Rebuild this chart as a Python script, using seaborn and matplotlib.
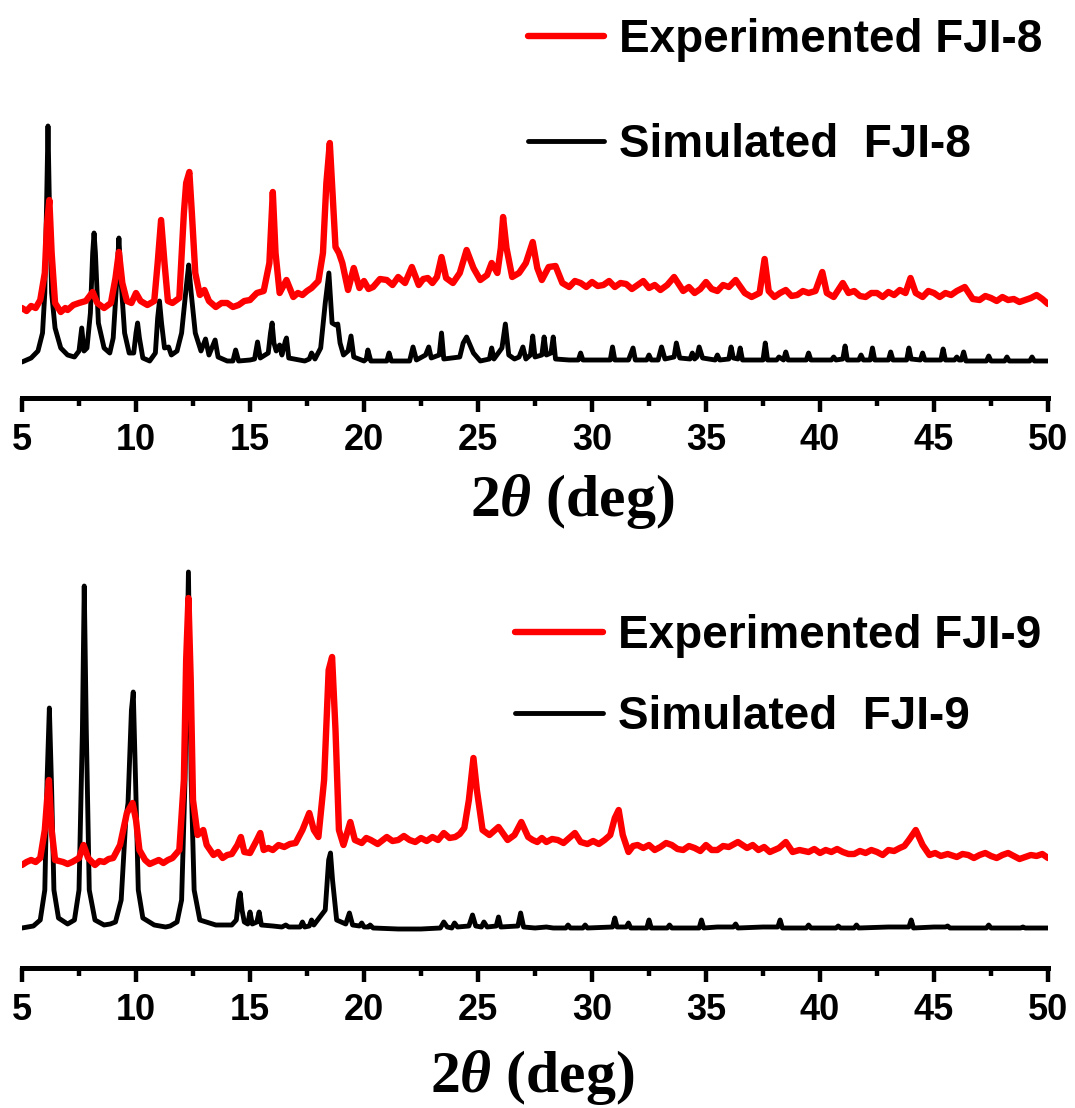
import numpy as np
import pandas as pd
import matplotlib
matplotlib.use("Agg")
import matplotlib.pyplot as plt
import seaborn as sns

# ---------------- data (2theta in deg, intensity in a.u.) ----------------
fji8_sim_x = [5.0, 5.4, 5.7, 5.9, 6.0, 6.08, 6.14, 6.2, 6.3, 6.45, 6.7, 7.0, 7.3, 7.5, 7.62, 7.72, 7.85,
              8.0, 8.1, 8.16, 8.22, 8.35, 8.6, 8.85, 9.0, 9.15, 9.25, 9.35, 9.5, 9.7, 9.9, 10.0, 10.07,
              10.15, 10.3, 10.6, 10.85, 10.95, 11.03, 11.12, 11.25, 11.43, 11.55, 11.8, 12.0, 12.2,
              12.31, 12.42, 12.6, 12.85, 13.05, 13.2, 13.47, 13.6, 14.0, 14.25, 14.37, 14.5, 15.0,
              15.2, 15.33, 15.45, 15.8, 15.9, 15.97, 16.05, 16.15, 16.3, 16.4, 16.55, 16.6, 16.7,
              17.4, 17.6, 17.7, 17.85, 18.1, 18.3, 18.46, 18.6, 18.75, 18.85, 18.95, 19.1, 19.3,
              19.43, 19.55, 20.0, 20.1, 20.17, 20.3, 21.0, 21.1, 21.2, 22.0, 22.15, 22.3, 22.7,
              22.84, 22.95, 23.3, 23.4, 23.5, 24.2, 24.35, 24.5, 24.65, 24.8, 25.1, 25.5, 25.6,
              25.7, 26.05, 26.2, 26.35, 26.6, 26.8, 26.97, 27.1, 27.3, 27.4, 27.5, 27.8, 27.9, 28.0,
              28.2, 28.3, 28.4, 29.0, 29.4, 29.5, 29.6, 30.2, 30.8, 30.9, 31.0, 31.6, 31.8, 31.9,
              32.4, 32.5, 32.6, 32.9, 33.05, 33.2, 33.6, 33.7, 33.85, 34.3, 34.4, 34.5, 34.6, 34.7,
              34.85, 35.4, 35.5, 35.6, 36.0, 36.1, 36.2, 36.4, 36.5, 36.6, 37.5, 37.6, 37.7, 38.1,
              38.2, 38.4, 38.5, 38.6, 39.4, 39.5, 39.6, 40.5, 40.6, 40.7, 41.0, 41.1, 41.2, 41.7,
              41.8, 41.9, 42.2, 42.3, 42.4, 43.0, 43.1, 43.2, 43.8, 43.9, 44.0, 44.4, 44.5, 44.6,
              45.3, 45.4, 45.5, 45.9, 46.0, 46.1, 46.2, 46.3, 46.4, 47.3, 47.4, 47.5, 48.1, 48.2,
              48.3, 49.2, 49.3, 49.4, 50.0]
fji8_sim_y = [1, 5, 12, 30, 70, 160, 237, 160, 70, 35, 15, 8, 6, 12, 35, 12, 15,
              50, 110, 130, 110, 40, 15, 10, 25, 80, 125, 80, 30, 10, 10, 30, 40,
              25, 5, 2, 10, 45, 62, 40, 15, 16, 8, 12, 30, 75,
              98, 70, 30, 12, 24, 8, 23, 6, 2, 2, 13, 2, 3,
              4, 21, 5, 10, 30, 40, 20, 12, 18, 8, 22, 25, 5,
              2, 4, 10, 4, 15, 60, 90, 40, 38, 39, 20, 8, 12,
              27, 6, 2, 4, 13, 2, 2, 10, 2, 2, 16, 3, 8,
              16, 5, 8, 30, 4, 6, 20, 26, 18, 10, 2, 4, 15,
              4, 15, 39, 8, 4, 6, 16, 4, 8, 27, 6, 8, 26, 8,
              10, 26, 4, 3, 3, 10, 3, 3, 3, 16, 3, 3, 15, 3,
              3, 8, 3, 3, 16, 4, 6, 20, 5, 4, 10, 4, 6, 16,
              5, 3, 8, 3, 4, 16, 5, 4, 15, 3, 3, 20, 3, 3,
              6, 3, 11, 3, 3, 10, 3, 3, 6, 3, 4, 17, 3, 3,
              8, 3, 3, 15, 3, 3, 11, 3, 3, 15, 4, 3, 10, 3,
              3, 14, 3, 3, 6, 3, 3, 11, 2, 2, 7, 2, 2, 6,
              2, 2, 6, 2, 2]

fji8_exp_x = [5.0, 5.2, 5.4, 5.6, 5.8, 6.0, 6.1, 6.2, 6.3, 6.45, 6.7, 6.9, 7.0, 7.25, 7.5, 7.8, 8.1,
              8.3, 8.6, 8.9, 9.1, 9.25, 9.4, 9.6, 9.8, 10.0, 10.2, 10.5, 10.8, 10.95, 11.1, 11.25,
              11.4, 11.6, 11.9, 12.1, 12.2, 12.34, 12.45, 12.6, 12.8, 13.0, 13.2, 13.5, 13.75, 14.0,
              14.25, 14.5, 14.75, 15.0, 15.3, 15.6, 15.85, 16.0, 16.12, 16.3, 16.6, 16.9, 17.1, 17.3,
              17.5, 17.7, 18.0, 18.2, 18.35, 18.5, 18.62, 18.75, 18.9, 19.05, 19.3, 19.55, 19.8,
              20.0, 20.2, 20.4, 20.7, 21.0, 21.25, 21.5, 21.8, 22.1, 22.4, 22.6, 22.8, 23.0, 23.2,
              23.4, 23.6, 23.9, 24.2, 24.5, 24.8, 25.1, 25.4, 25.6, 25.85, 26.0, 26.1, 26.25, 26.5,
              26.8, 27.1, 27.4, 27.6, 27.8, 28.1, 28.4, 28.7, 29.0, 29.25, 29.5, 29.75, 30.0, 30.25,
              30.5, 30.75, 31.0, 31.25, 31.5, 31.75, 32.0, 32.25, 32.5, 32.75, 33.0, 33.3, 33.6,
              34.0, 34.25, 34.5, 34.75, 35.0, 35.25, 35.5, 35.75, 36.0, 36.3, 36.7, 37.0, 37.35,
              37.57, 37.75, 38.0, 38.25, 38.5, 38.75, 39.0, 39.25, 39.5, 39.8, 40.1, 40.3, 40.6,
              41.0, 41.25, 41.5, 41.75, 42.0, 42.25, 42.5, 42.75, 43.0, 43.25, 43.5, 43.75, 43.97,
              44.2, 44.5, 44.75, 45.0, 45.25, 45.5, 45.75, 46.0, 46.35, 46.7, 47.0, 47.25, 47.5,
              47.75, 48.0, 48.25, 48.5, 48.75, 49.0, 49.25, 49.5, 49.75, 50.0]
fji8_exp_y = [55, 52, 57, 55, 63, 90, 140, 163, 110, 60, 51, 55, 53, 58, 60, 62, 71,
              60, 55, 60, 85, 111, 80, 62, 60, 70, 62, 58, 62, 100, 143, 100,
              62, 60, 65, 150, 180, 191, 150, 90, 68, 73, 62, 56, 60, 60,
              56, 58, 62, 63, 70, 72, 100, 171, 110, 70, 83, 66, 70, 68,
              72, 75, 82, 110, 180, 220, 170, 116, 110, 100, 73, 95, 75,
              82, 74, 76, 84, 83, 78, 86, 80, 96, 78, 84, 85, 80, 86,
              106, 85, 80, 90, 113, 95, 83, 88, 100, 90, 115, 146, 115, 86,
              90, 100, 121, 95, 83, 96, 97, 80, 76, 82, 80, 76, 81, 77,
              78, 82, 76, 80, 79, 74, 78, 82, 75, 78, 73, 78, 86,
              72, 76, 70, 74, 81, 74, 72, 78, 76, 83, 70, 66, 70,
              104, 72, 66, 70, 73, 67, 68, 72, 70, 72, 91, 70, 66,
              80, 70, 72, 67, 66, 70, 70, 66, 71, 68, 73, 70, 85,
              70, 66, 72, 70, 66, 70, 68, 72, 76, 64, 63, 67, 65,
              62, 66, 63, 64, 61, 63, 65, 68, 64, 59]

fji9_sim_x = [5.0, 5.5, 5.8, 6.0, 6.1, 6.2, 6.3, 6.4, 6.6, 7.0, 7.3, 7.5, 7.65, 7.73, 7.82, 7.95,
              8.2, 8.6, 8.87, 9.1, 9.35, 9.55, 9.65, 9.8, 9.88, 9.98, 10.1, 10.3, 10.8, 11.3, 11.5,
              11.8, 12.0, 12.15, 12.3, 12.42, 12.55, 12.8, 13.5, 14.2, 14.4, 14.5, 14.57, 14.65,
              14.75, 14.9, 15.0, 15.1, 15.3, 15.4, 15.5, 16.0, 16.4, 16.57, 16.7, 17.2, 17.3, 17.4,
              17.6, 17.7, 17.8, 18.3, 18.45, 18.53, 18.62, 18.8, 19.2, 19.36, 19.5, 19.8, 19.9,
              20.0, 20.2, 20.27, 20.4, 21.5, 22.5, 23.35, 23.5, 23.65, 23.85, 23.97, 24.1, 24.6,
              24.76, 24.9, 25.15, 25.26, 25.4, 25.8, 25.9, 26.0, 26.75, 26.87, 27.0, 27.5, 28.0,
              28.3, 28.85, 28.95, 29.05, 29.6, 29.7, 29.8, 30.9, 31.0, 31.1, 31.5, 31.6, 31.7, 32.4,
              32.5, 32.6, 33.3, 33.4, 33.5, 34.7, 34.8, 34.9, 35.5, 36.2, 36.3, 36.4, 37.5, 38.15,
              38.25, 38.35, 39.4, 39.5, 39.6, 40.7, 40.8, 40.9, 41.5, 41.6, 41.7, 43.0, 43.9, 44.0,
              44.1, 45.0, 45.5, 45.6, 45.7, 47.3, 47.4, 47.5, 48.8, 48.9, 49.0, 50.0]
fji9_sim_y = [2, 4, 10, 40, 150, 222, 140, 40, 12, 6, 10, 40, 200, 344, 200, 40,
              10, 5, 6, 8, 30, 110, 127, 220, 238, 150, 40, 12, 5, 3, 4,
              8, 30, 150, 358, 150, 40, 10, 5, 5, 10, 30, 37, 20,
              8, 6, 18, 6, 8, 18, 5, 4, 3, 5, 3, 3, 8, 3,
              4, 10, 5, 20, 70, 77, 50, 10, 6, 17, 5, 4, 7,
              3, 3, 5, 2, 1, 1, 2, 8, 3, 2, 7, 3, 4,
              15, 4, 3, 8, 3, 4, 13, 3, 4, 17, 3, 2, 3,
              2, 2, 5, 2, 2, 5, 2, 3, 12, 3, 3, 7, 2, 2,
              10, 2, 2, 5, 2, 2, 10, 2, 3, 3, 6, 2, 3, 3,
              10, 2, 2, 5, 2, 2, 4, 2, 2, 5, 2, 3, 3, 10,
              2, 3, 3, 4, 2, 2, 5, 2, 2, 3, 2, 2]

fji9_exp_x = [5.0, 5.2, 5.4, 5.6, 5.8, 6.0, 6.1, 6.18, 6.3, 6.45, 6.8, 7.0, 7.2, 7.5, 7.7, 7.9, 8.2,
              8.4, 8.6, 8.8, 9.0, 9.3, 9.6, 9.85, 10.0, 10.15, 10.4, 10.6, 10.8, 11.0, 11.2, 11.4,
              11.6, 11.9, 12.1, 12.2, 12.3, 12.4, 12.5, 12.7, 12.95, 13.1, 13.4, 13.6, 13.8, 14.0,
              14.2, 14.45, 14.6, 14.75, 15.0, 15.3, 15.45, 15.6, 15.8, 16.0, 16.25, 16.5, 16.75,
              17.0, 17.3, 17.6, 17.8, 18.0, 18.25, 18.45, 18.6, 18.75, 18.9, 19.1, 19.4, 19.6, 19.9,
              20.1, 20.3, 20.6, 21.0, 21.25, 21.5, 21.75, 22.0, 22.25, 22.5, 22.75, 23.0, 23.25,
              23.5, 23.75, 24.0, 24.2, 24.4, 24.6, 24.8, 24.95, 25.2, 25.5, 25.9, 26.3, 26.6, 26.9,
              27.2, 27.4, 27.6, 27.8, 28.0, 28.25, 28.5, 28.75, 29.0, 29.25, 29.5, 29.8, 30.05,
              30.3, 30.55, 30.8, 31.0, 31.17, 31.35, 31.6, 31.8, 32.0, 32.25, 32.5, 32.75, 33.0,
              33.25, 33.5, 33.75, 34.0, 34.25, 34.5, 34.75, 35.0, 35.25, 35.5, 35.75, 36.0, 36.4,
              36.8, 37.05, 37.3, 37.55, 37.8, 38.2, 38.5, 38.8, 39.1, 39.5, 39.75, 40.0, 40.25,
              40.5, 40.75, 41.0, 41.25, 41.5, 41.75, 42.0, 42.25, 42.5, 42.75, 43.0, 43.25, 43.5,
              43.7, 43.9, 44.2, 44.5, 44.8, 45.05, 45.3, 45.6, 46.0, 46.25, 46.5, 46.75, 47.0, 47.25,
              47.5, 47.75, 48.0, 48.25, 48.5, 48.75, 49.0, 49.25, 49.5, 49.75, 50.0]
fji9_exp_y = [65, 68, 70, 68, 72, 100, 130, 150, 100, 70, 68, 66, 68, 72, 85, 72, 65,
              69, 68, 71, 72, 85, 117, 127, 110, 80, 70, 66, 68, 70, 67, 70,
              72, 80, 150, 270, 332, 250, 130, 95, 100, 85, 75, 78, 72, 75,
              76, 85, 93, 78, 77, 90, 97, 80, 82, 80, 85, 83, 86,
              87, 100, 117, 100, 93, 150, 260, 273, 200, 100, 85, 108, 90, 87,
              92, 90, 86, 93, 89, 90, 94, 90, 88, 92, 89, 93, 90,
              97, 92, 93, 96, 102, 130, 172, 140, 100, 95, 103, 90, 95, 108,
              93, 90, 88, 92, 88, 91, 90, 87, 92, 97, 88, 86, 89,
              86, 90, 95, 112, 120, 95, 78, 84, 85, 82, 85, 80, 83,
              87, 85, 81, 80, 84, 82, 79, 85, 80, 80, 84, 83, 88,
              82, 85, 80, 83, 78, 82, 88, 78, 80, 78, 81, 77, 80,
              78, 81, 78, 76, 76, 79, 77, 80, 78, 75, 80, 79, 82,
              84, 90, 100, 85, 75, 77, 74, 76, 73, 76, 75, 72, 75, 77,
              74, 72, 75, 77, 74, 71, 73, 75, 74, 76, 72]

x_ticks = [5, 10, 15, 20, 25, 30, 35, 40, 45, 50]
panels = [
    dict(sim_x=fji8_sim_x, sim_y=fji8_sim_y, exp_x=fji8_exp_x, exp_y=fji8_exp_y,
         exp_label="Experimented FJI-8", sim_label="Simulated  FJI-8"),
    dict(sim_x=fji9_sim_x, sim_y=fji9_sim_y, exp_x=fji9_exp_x, exp_y=fji9_exp_y,
         exp_label="Experimented FJI-9", sim_label="Simulated  FJI-9"),
]

# ---------------- style ----------------
sns.set_style("white")
plt.rcParams["font.family"] = ["Liberation Sans", "DejaVu Sans"]
plt.rcParams["font.weight"] = "bold"
plt.rcParams["text.color"] = "black"
plt.rcParams["axes.labelcolor"] = "black"
plt.rcParams["xtick.color"] = "black"
plt.rcParams["mathtext.fontset"] = "custom"
plt.rcParams["mathtext.rm"] = "Liberation Serif:bold"
plt.rcParams["mathtext.it"] = "Liberation Serif:italic:bold"
plt.rcParams["mathtext.bf"] = "Liberation Serif:bold"

fig = plt.figure(figsize=(10.75, 11.08), dpi=100)
W, H = 1075.0, 1108.0

layout = [
    dict(rect=[22 / W, 1 - 398 / H, 1026 / W, 398 / H], ylim=(-35, 363),
         leg_xy=((528 - 22) / 1026, 0.955), handlelen=1.66, labelsp=1.33,
         xlabel_xy=(0.536, -0.185)),
    dict(rect=[22 / W, 1 - 968 / H, 1026 / W, 408 / H], ylim=(-38, 370),
         leg_xy=((515 - 22) / 1026, 0.868), handlelen=1.92, labelsp=0.81,
         xlabel_xy=(0.497, -0.195)),
]

for p, lay in zip(panels, layout):
    ax = fig.add_axes(lay["rect"])
    sim_df = pd.DataFrame({"two_theta": p["sim_x"], "intensity": p["sim_y"]})
    exp_df = pd.DataFrame({"two_theta": p["exp_x"], "intensity": p["exp_y"]})
    sns.lineplot(data=sim_df, x="two_theta", y="intensity", ax=ax, color="black",
                 linewidth=3.5, estimator=None, sort=False)
    sns.lineplot(data=exp_df, x="two_theta", y="intensity", ax=ax, color="#ff0000",
                 linewidth=4.6, estimator=None, sort=False)
    sim_line, exp_line = ax.lines[0], ax.lines[1]
    ax.set_xlim(5, 50)
    ax.set_ylim(*lay["ylim"])
    for s in ["left", "right", "top"]:
        ax.spines[s].set_visible(False)
    ax.spines["bottom"].set_linewidth(3.6)
    ax.spines["bottom"].set_color("black")
    ax.set_yticks([])
    ax.set_ylabel("")
    ax.set_xticks(x_ticks)
    ax.set_xticks(np.arange(7.5, 50, 5), minor=True)
    ax.tick_params(axis="x", which="major", direction="out", length=10, width=3.2,
                   pad=8, labelsize=26, colors="black", bottom=True)
    ax.tick_params(axis="x", which="minor", direction="out", length=6, width=3.2,
                   bottom=True, colors="black")
    for t in ax.get_xticklabels():
        t.set_fontweight("bold")
        t.set_color("black")
    ax.set_xlabel(r"2$\mathit{\theta}$ (deg)", fontsize=43, fontweight="bold",
                  family="Liberation Serif", color="black")
    ax.xaxis.set_label_coords(*lay["xlabel_xy"])
    ax.xaxis.label.set_va("top")
    leg = ax.legend([exp_line, sim_line], [p["exp_label"], p["sim_label"]],
                    loc="upper left", bbox_to_anchor=lay["leg_xy"], frameon=False,
                    borderpad=0, borderaxespad=0, handlelength=lay["handlelen"],
                    handletextpad=0.33, labelspacing=lay["labelsp"],
                    prop=dict(family="Liberation Sans", weight="bold", size=33))
    for t in leg.get_texts():
        t.set_color("black")
    ax.set_facecolor("white")

fig.savefig("out.png", dpi=100, facecolor="white")
